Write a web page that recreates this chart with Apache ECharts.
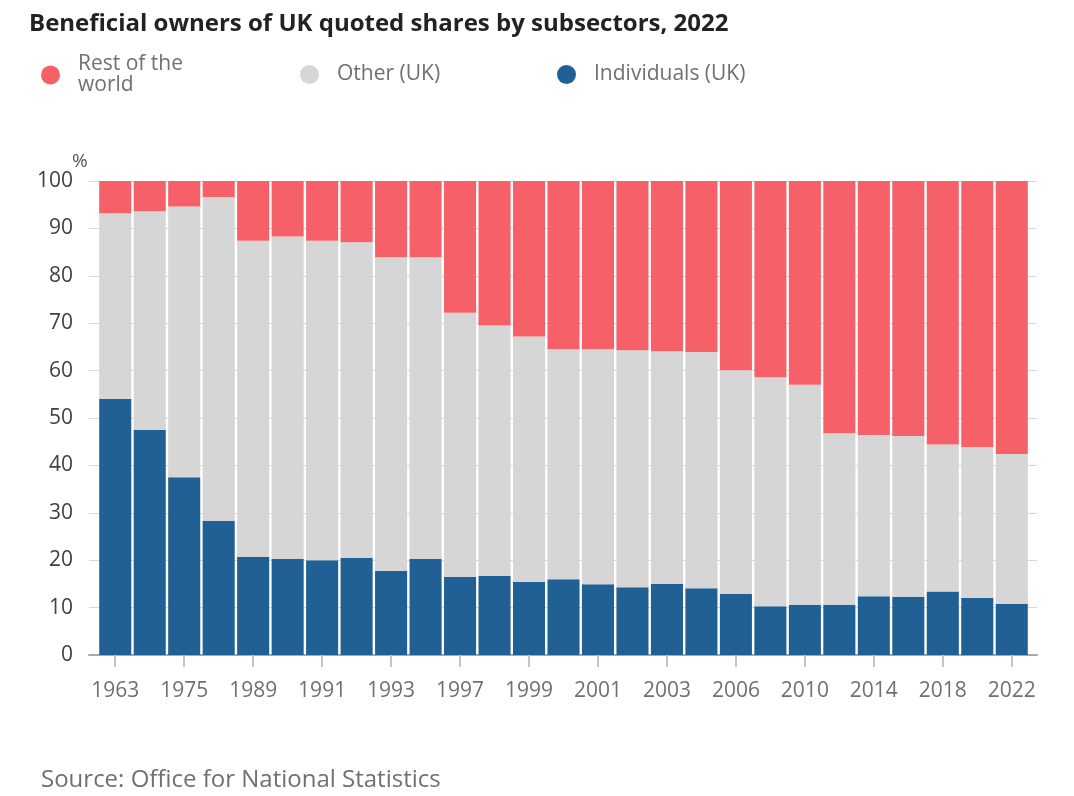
<!DOCTYPE html>
<html>
<head>
<meta charset="utf-8">
<script src="https://cdn.jsdelivr.net/npm/echarts@6/dist/echarts.min.js"></script>
<style>
html,body{margin:0;padding:0;background:#fff;}
#chart{width:1074px;height:796px;}
</style>
</head>
<body>
<div id="chart"></div>
<script>
const years = ['1963','1969','1975','1981','1989','1990','1991','1992','1993','1994','1997','1998','1999','2000','2001','2002','2003','2004','2006','2008','2010','2012','2014','2016','2018','2020','2022'];
const individualsUK = [54.0,47.5,37.5,28.3,20.7,20.3,20.0,20.5,17.7,20.3,16.5,16.7,15.4,16.0,14.9,14.3,15.0,14.1,12.9,10.3,10.6,10.6,12.4,12.3,13.4,12.0,10.8];
const otherUK = [39.2,46.1,57.1,68.3,66.7,68.0,67.4,66.6,66.2,63.6,55.7,52.8,51.8,48.5,49.6,50.0,49.1,49.8,47.2,48.3,46.4,36.2,34.0,33.9,31.0,31.9,31.6];
const restOfWorld = [6.8,6.4,5.4,3.4,12.6,11.7,12.6,12.9,16.1,16.1,27.8,30.5,32.8,35.5,35.5,35.7,35.9,36.1,39.9,41.4,43.0,53.2,53.6,53.8,55.6,56.1,57.6];
const yTicks = [0,10,20,30,40,50,60,70,80,90,100];

const FONT = '"Open Sans", "Noto Sans", sans-serif';
const chart = echarts.init(document.getElementById('chart'), null, {renderer:'canvas'});
const legendBase = {
  orient:'horizontal', top: 59, icon:'circle', itemWidth:19, itemHeight:19, itemGap:0,
  selectedMode:false,
  textStyle:{fontFamily:FONT, fontSize:21, color:'#707070', lineHeight:21, padding:[0,0,0,13]}
};
const option = {
  animation:false,
  backgroundColor:'#fff',
  title:[
    {text:'Beneficial owners of UK quoted shares by subsectors, 2022', left:24, top:7,
     textStyle:{fontFamily:FONT, fontSize:24, fontWeight:'bold', color:'#222222'}},
    {text:'Source: Office for National Statistics', left:36, top:763,
     textStyle:{fontFamily:FONT, fontSize:24, fontWeight:'normal', color:'#707070'}},
    {text:'%', left:67, top:147, textStyle:{fontFamily:FONT, fontSize:19, fontWeight:'normal', color:'#555'}}
  ],
  legend:[
    Object.assign({}, legendBase, {left:36, top:49, data:['Rest of the world'],
      formatter: n => n.replace('Rest of the ', 'Rest of the\n')}),
    Object.assign({}, legendBase, {left:295, data:['Other (UK)']}),
    Object.assign({}, legendBase, {left:552, data:['Individuals (UK)']})
  ],
  grid:[
    {left:89, right:37, top:181, bottom:141},
    {left:98, right:45, top:181, bottom:141}
  ],
  xAxis:[
    {type:'category', gridIndex:0, data:years, boundaryGap:true,
     axisLine:{show:true, lineStyle:{color:'#a8a8a8', width:2}}, axisTick:{show:false}, axisLabel:{show:false}},
    {type:'category', gridIndex:1, data:years, boundaryGap:true,
     axisLine:{show:false},
     axisTick:{show:true, alignWithLabel:true, interval:1, length:12, lineStyle:{color:'#c4c4c4', width:2}},
     axisLabel:{show:true, interval:1, margin:26, fontFamily:FONT, fontSize:21, color:'#707070'}}
  ],
  yAxis:[
    {type:'value', gridIndex:0, min:yTicks[0], max:yTicks[yTicks.length-1], interval:10,
     axisLine:{show:false}, axisTick:{show:false},
     axisLabel:{margin:16, fontFamily:FONT, fontSize:21, color:'#414042'},
     splitLine:{show:true, lineStyle:{color:'#d9d9d9', width:1}}},
    {type:'value', gridIndex:1, min:0, max:100, interval:10, show:false, splitLine:{show:false}}
  ],
  series:[
    {name:'Individuals (UK)', type:'bar', stack:'a', xAxisIndex:1, yAxisIndex:1, data:individualsUK,
     itemStyle:{color:'#206095'}, barCategoryGap:'7%'},
    {name:'Other (UK)', type:'bar', stack:'a', xAxisIndex:1, yAxisIndex:1, data:otherUK,
     itemStyle:{color:'#d6d6d6'}, barCategoryGap:'7%'},
    {name:'Rest of the world', type:'bar', stack:'a', xAxisIndex:1, yAxisIndex:1, data:restOfWorld,
     itemStyle:{color:'#f66068'}, barCategoryGap:'7%'}
  ]
};
chart.setOption(option);
</script>
</body>
</html>
